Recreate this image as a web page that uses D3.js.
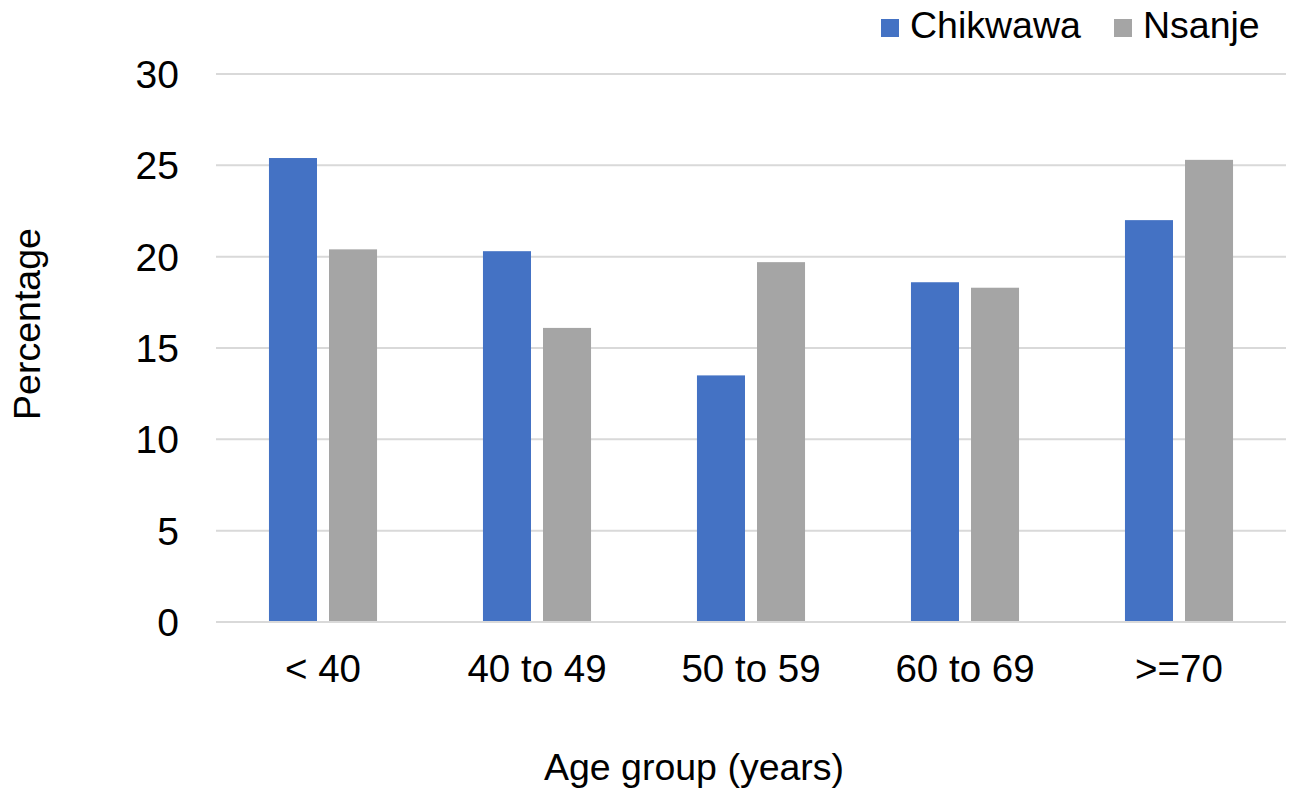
<!DOCTYPE html>
<html>
<head>
<meta charset="utf-8">
<script src="https://cdn.jsdelivr.net/npm/d3@7"></script>
<style>
  body { margin: 0; background: #fff; }
  text { font-family: Arial, 'Liberation Sans', sans-serif; fill: #000; }
</style>
</head>
<body>
<svg id="chart" width="1291" height="790"></svg>
<script>
const ageGroups = ['< 40', '40 to 49', '50 to 59', '60 to 69', '>=70'];
const seriesNames = ['Chikwawa', 'Nsanje'];
const chikwawa = [25.4, 20.3, 13.5, 18.6, 22.0];
const nsanje = [20.4, 16.1, 19.7, 18.3, 25.3];
const yTicks = [0, 5, 10, 15, 20, 25, 30];

const colors = { Chikwawa: '#4472C4', Nsanje: '#A5A5A5' };

const svg = d3.select('#chart');
const plotLeft = 216, plotRight = 1286, plotTop = 74, plotBottom = 622;

let rows = ageGroups.map((g, i) => ({ group: g, Chikwawa: chikwawa[i], Nsanje: nsanje[i] }));

const x0 = d3.scaleBand().domain(ageGroups).range([plotLeft, plotRight])
  .paddingInner(0.495).paddingOuter(0.2475);
const x1 = d3.scaleBand().domain(seriesNames).range([0, x0.bandwidth()]).paddingInner(0.2);
const y = d3.scaleLinear().domain([0, 30]).range([plotBottom, plotTop]);

// gridlines
svg.append('g')
  .selectAll('line')
  .data(yTicks)
  .enter()
  .append('line')
  .attr('x1', plotLeft)
  .attr('x2', plotRight)
  .attr('y1', (d) => y(d))
  .attr('y2', (d) => y(d))
  .attr('stroke', '#D9D9D9')
  .attr('stroke-width', 2);

// y tick labels
svg.append('g')
  .selectAll('text')
  .data(yTicks)
  .enter()
  .append('text')
  .attr('x', 179)
  .attr('y', (d) => y(d))
  .attr('dy', '0.36em')
  .attr('text-anchor', 'end')
  .style('font-size', '39px')
  .text((d) => d);

// bars
svg.append('g')
  .selectAll('g')
  .data(rows)
  .enter()
  .append('g')
  .attr('transform', (d) => 'translate(' + x0(d.group) + ',0)')
  .selectAll('rect')
  .data((d) => seriesNames.map((s) => ({ key: s, value: d[s] })))
  .enter()
  .append('rect')
  .attr('x', (d) => x1(d.key))
  .attr('width', x1.bandwidth())
  .attr('y', (d) => y(d.value))
  .attr('height', (d) => y(0) - y(d.value))
  .attr('fill', (d) => colors[d.key]);

// baseline
svg.append('line')
  .attr('x1', plotLeft).attr('x2', plotRight)
  .attr('y1', y(0)).attr('y2', y(0))
  .attr('stroke', '#D9D9D9').attr('stroke-width', 2);

// x labels
svg.append('g')
  .selectAll('text')
  .data(ageGroups)
  .enter()
  .append('text')
  .attr('x', (d) => x0(d) + x0.bandwidth() / 2)
  .attr('y', 682)
  .attr('text-anchor', 'middle')
  .style('font-size', '38.5px')
  .text((d) => d);

// axis titles
svg.append('text')
  .attr('x', 694)
  .attr('y', 780)
  .attr('text-anchor', 'middle')
  .style('font-size', '37.5px')
  .text('Age group (years)');

svg.append('text')
  .attr('transform', 'translate(40,324) rotate(-90)')
  .attr('text-anchor', 'middle')
  .style('font-size', '37.5px')
  .text('Percentage');

// legend
const legendX = [881, 1114];
const legend = svg.append('g')
  .selectAll('g')
  .data(seriesNames)
  .enter()
  .append('g')
  .attr('transform', (d, i) => 'translate(' + legendX[i] + ',0)');

legend.append('rect')
  .attr('x', 0).attr('y', 19)
  .attr('width', 18).attr('height', 18)
  .attr('fill', (d) => colors[d]);

legend.append('text')
  .attr('x', 29)
  .attr('y', 38)
  .style('font-size', '37.5px')
  .text((d) => d);
</script>
</body>
</html>
